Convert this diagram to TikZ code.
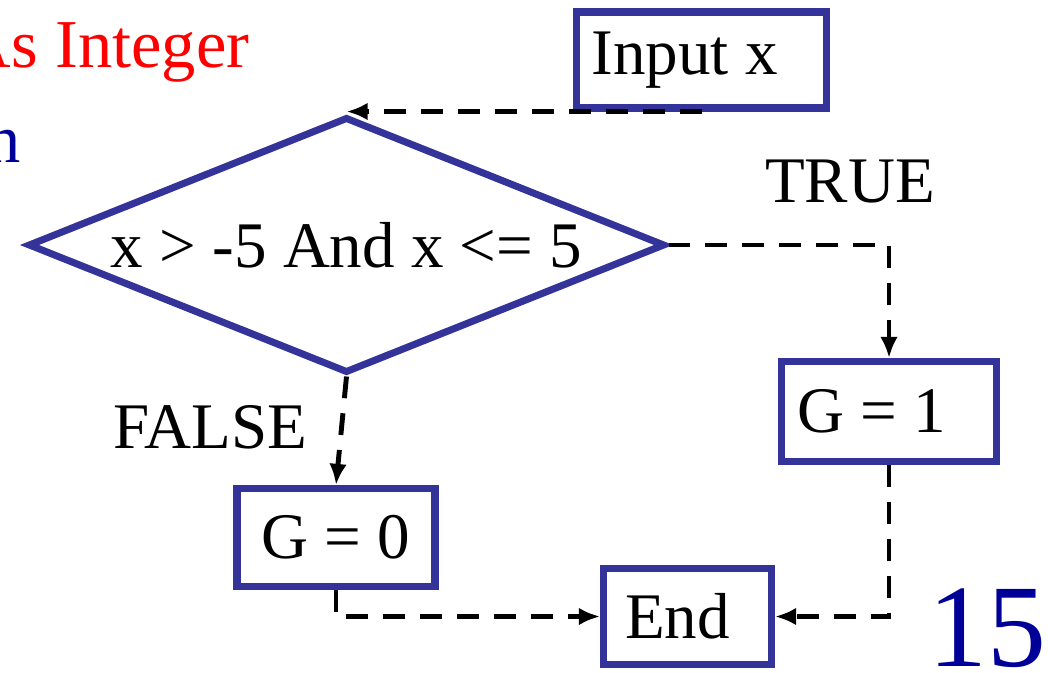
\documentclass[tikz,border=0pt]{standalone}
\usepackage{fontspec}
\setmainfont{Liberation Serif}
\usetikzlibrary{shapes.geometric,arrows.meta}
\definecolor{boxblue}{HTML}{333399}
\definecolor{navy}{HTML}{000099}
% empty room after a box text
\newcommand{\padr}[1]{\rule{#1}{0pt}}

\begin{document}
\begin{tikzpicture}[
    >={Latex[length=6pt,width=5pt]},
    font=\fontsize{18.5}{22}\selectfont,
    block/.style={draw=boxblue, line width=2pt, inner sep=0pt},
    flow/.style={->, dash pattern=on 6.2pt off 4.3pt, line width=1.4pt}
  ]
  \useasboundingbox (0,0) rectangle (10.48,-6.73);
  % bits of the slide around the chart
  \node[red, inner sep=0pt, anchor=base east, font=\fontsize{19.5}{23}\selectfont] (decl) at (2.5,-0.68) {As Integer};
  \node[navy, inner sep=0pt, anchor=base east, font=\fontsize{19.5}{23}\selectfont] (fn) at (0.21,-1.63) {n};
  \node[navy, inner sep=0pt, anchor=base east, font=\fontsize{33.5}{40}\selectfont] (pageno) at (10.47,-6.66) {15};
  % chart
  \node[block, minimum width=2.5cm, minimum height=0.96cm] (input) at (7.015,-0.6) {Input x\padr{0.34cm}};
  \node[block, diamond, aspect=2.49, minimum width=6.37cm, minimum height=2.56cm] (dec) at (3.465,-2.45) {x > -5 And x <= 5};
  \node[block, minimum width=2.15cm, minimum height=1cm] (g1) at (8.89,-4.115) {G = 1\padr{0.34cm}};
  \node[block, minimum width=1.98cm, minimum height=0.98cm] (g0) at (3.36,-5.375) {G = 0};
  \node[block, minimum width=1.68cm, minimum height=0.96cm] (end) at (6.875,-6.165) {End\padr{0.2cm}};
  \node (true) at (8.5,-1.82) {TRUE};
  \node (false) at (2.1,-4.27) {FALSE};
  % connectors
  \draw[flow] (input.south) -- (input.south -| dec.north);
  \draw[flow] (dec.east) -| (g1.north);
  \draw[flow] (dec.south) -- (g0.north);
  \draw[flow] (g0.south) |- (end.west);
  \draw[flow] (g1.south) |- (end.east);
\end{tikzpicture}
\end{document}
